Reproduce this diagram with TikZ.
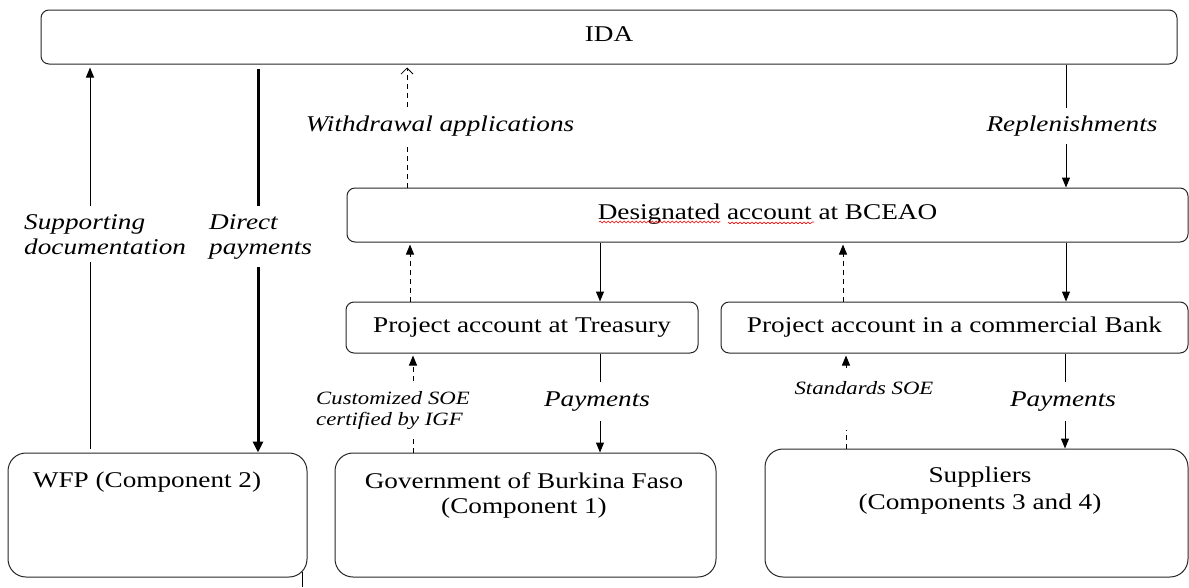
\documentclass[tikz,border=0pt]{standalone}
\usepackage{fontspec}
\setmainfont{Liberation Serif}[FakeStretch=1.21]
\usetikzlibrary{arrows.meta,decorations.pathmorphing}
\begin{document}
\begin{tikzpicture}[x=1pt,y=-1pt,
  box/.style={draw=black!85,line width=1pt,rounded corners=8pt,inner sep=0pt,
    font=\fontsize{22.5}{25}\selectfont,text height=15pt,text depth=6pt},
  bigbox/.style={draw=black!85,line width=1pt,rounded corners=18pt,inner sep=0pt},
  txt/.style={font=\fontsize{22.5}{25}\selectfont,inner sep=0pt,align=center},
  elab/.style={font=\fontsize{22.5}{25}\selectfont\itshape,fill=white,inner xsep=2pt,inner ysep=8pt,align=left},
  slab/.style={font=\fontsize{18.8}{21}\selectfont\itshape,fill=white,inner xsep=2pt,inner ysep=8pt,align=left},
  flow/.style={line width=1pt,-{Triangle[length=10pt,width=8pt]}},
  dflow/.style={flow,dash pattern=on 5pt off 4pt},
]
\useasboundingbox (0,0) rectangle (1189,587);

% boxes
\node[box,minimum width=1136pt,minimum height=54pt] (ida) at (609,37) {IDA};
\node[box,minimum width=841pt,minimum height=54pt] (des) at (767.5,215) {Designated account at BCEAO};
\node[box,minimum width=352pt,minimum height=51pt] (tre) at (522,327.5) {Project account at Treasury};
\node[box,minimum width=467pt,minimum height=51pt] (bank) at (954.5,327.5) {Project account in a commercial Bank};
\node[bigbox,minimum width=299pt,minimum height=124pt] (wfp) at (157.5,515) {};
\node[bigbox,minimum width=381pt,minimum height=124pt] (gov) at (525.5,515) {};
\node[bigbox,minimum width=423pt,minimum height=128pt] (sup) at (976.5,513) {};
\node[txt,anchor=base] (wfpt) at (147,487.5) {WFP (Component 2)};
\node[txt,anchor=north] (govt) at (524,472) {Government of Burkina Faso\\(Component 1)};
\node[txt,anchor=north,font=\fontsize{22.5}{27}\selectfont] (supt) at (980,467) {Suppliers\\(Components 3 and 4)};

% spell-check underline
\draw[red,line width=0.6pt,decorate,decoration={snake,amplitude=0.9pt,segment length=4pt}]
  (599,222) -- (719,222) (728,222) -- (814,222);

% connectors
\draw[flow,shorten <=4pt,shorten >=3pt] (90,0 |- wfp.north) -- (90,0 |- ida.south);
\draw[line width=3pt,-{Triangle[length=11pt,width=10pt]},shorten <=4pt] (258,0 |- ida.south) -- (258,0 |- wfp.north);
\draw[line width=1pt,dash pattern=on 5pt off 4pt,-{Straight Barb[length=6pt,width=12pt,line width=0.8pt]},shorten >=3pt] (407,0 |- des.north) -- (407,0 |- ida.south);
\draw[flow] (1066,0 |- ida.south) -- (1066,0 |- des.north);
\draw[flow] (600,0 |- des.south) -- (600,0 |- tre.north);
\draw[dflow,shorten >=2pt] (410,0 |- tre.north) -- (410,0 |- des.south);
\draw[dflow,shorten >=2pt] (843,0 |- bank.north) -- (843,0 |- des.south);
\draw[flow] (1066,0 |- des.south) -- (1066,0 |- bank.north);
\draw[flow] (600,0 |- tre.south) -- (600,0 |- gov.north);
\draw[dflow,shorten >=2pt] (413,0 |- gov.north) -- (413,0 |- tre.south);
\draw[dflow,shorten >=2pt] (846,0 |- sup.north) -- (846,0 |- bank.south);
\draw[flow] (1065,0 |- bank.south) -- (1065,0 |- sup.north);
\draw[line width=1pt] (302,572) -- (302,587);

% labels
\node[elab,anchor=north west] (l1) at (22,206) {Supporting\\documentation};
\node[elab,anchor=north west] (l2) at (207,206) {Direct\\payments};
\node[elab,anchor=base] (l3) at (440,131.5) {Withdrawal applications};
\node[elab,anchor=base] (l4) at (1072,131.5) {Replenishments};
\node[elab,anchor=base,inner ysep=10pt] (l5) at (597,406.5) {Payments};
\node[elab,anchor=base,inner ysep=10pt] (l6) at (1063,406.5) {Payments};
\node[slab,anchor=north west] (l7) at (314,383) {Customized SOE\\certified by IGF};
\node[slab,anchor=base,inner ysep=0pt,text height=24pt,text depth=36pt] (l8) at (864,394) {Standards SOE};
\end{tikzpicture}
\end{document}
